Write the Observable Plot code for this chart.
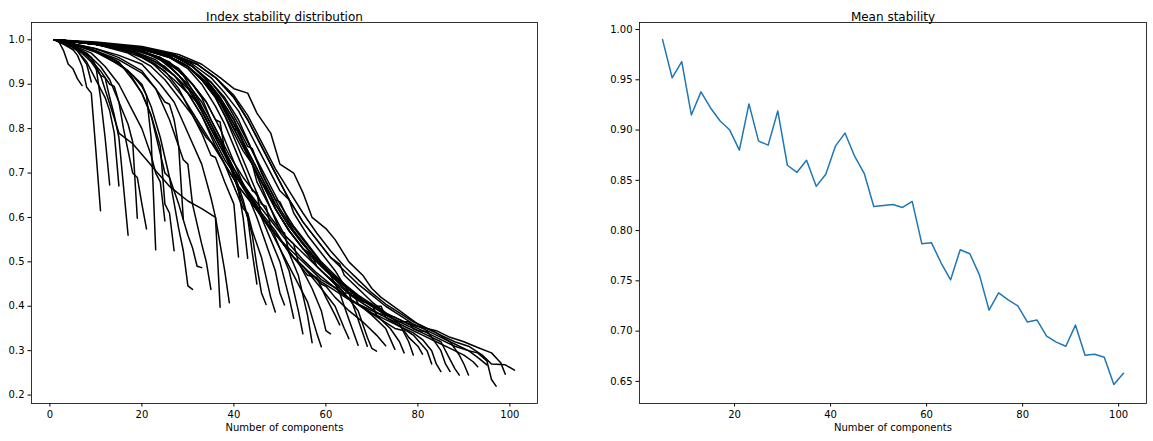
<!DOCTYPE html>
<html><head><meta charset="utf-8">
<script src="https://cdn.jsdelivr.net/npm/d3@7"></script>
<script src="https://cdn.jsdelivr.net/npm/@observablehq/plot@0.6"></script>
<style>
body{margin:0;background:#fff;font-family:"DejaVu Sans",sans-serif;}
#wrap{display:flex;width:1153px;height:441px;}
svg{font-family:"DejaVu Sans",sans-serif;}
</style></head><body><div id="wrap"></div>
<script>
// ---- data ----
const componentCounts = [5,7,9,11,13,15,17,19,21,23,25,27,29,31,33,35,37,39,41,43,45,47,49,51,53,55,57,59,61,63,65,67,69,71,73,75,77,79,81,83,85,87,89,91,93,95,97,99,101];
const meanStability = [0.990,0.952,0.968,0.915,0.938,0.922,0.909,0.900,0.880,0.926,0.889,0.885,0.919,0.865,0.858,0.870,0.844,0.856,0.884,0.897,0.874,0.857,0.824,0.825,0.826,0.823,0.829,0.787,0.788,0.768,0.751,0.781,0.777,0.756,0.721,0.738,0.731,0.725,0.709,0.711,0.695,0.689,0.685,0.706,0.676,0.677,0.674,0.647,0.658];

const leftXTicks = [0,20,40,60,80,100];
const leftYTicks = [0.2,0.3,0.4,0.5,0.6,0.7,0.8,0.9,1.0];
const rightXTicks = [20,40,60,80,100];
const rightYTicks = [0.65,0.70,0.75,0.80,0.85,0.90,0.95,1.00];

// Per-model stability curves (component index, stability), read as breakpoints
const shortCurves = [
  [[1,1],[2,.996],[3,.992],[4,.986],[5,.978]],
  [[1,1],[2,.995],[3,.975],[4,.945],[5,.935],[6,.912],[7,.897]],
  [[1,1],[3,.993],[5,.985],[6,.975],[7,.96],[8,.945],[9,.905]],
  [[1,1],[3,.99],[5,.978],[6,.965],[7,.94],[8,.893],[9,.88],[10,.75],[11,.615]],
  [[1,1],[4,.99],[7,.975],[9,.96],[10,.94],[11,.87],[12,.78],[13,.673]],
  [[1,1],[4,.99],[6,.975],[8,.95],[10,.91],[12,.87],[13,.84],[14,.79],[15,.671]],
  [[1,1],[4,.99],[7,.97],[9,.95],[11,.92],[12,.915],[13,.87],[14,.83],[15,.78],[17,.56]],
  [[1,1],[5,.985],[8,.965],[11,.93],[13,.9],[14,.895],[15,.86],[17,.81],[18,.77],[19,.598]],
  [[1,1],[5,.985],[8,.97],[11,.94],[13,.91],[15,.86],[16,.8],[17,.75],[18,.7],[19,.69],[20,.63],[21,.574]],
  [[1,1],[5,.99],[10,.972],[15,.945],[18,.92],[20,.895],[21,.875],[22,.78],[23,.527]],
  [[1,1],[5,.988],[9,.97],[12,.94],[15,.9],[18,.84],[20,.8],[22,.74],[23,.7],[24,.68],[25,.592]],
  [[1,1],[5,.99],[10,.975],[15,.95],[18,.91],[20,.88],[22,.83],[24,.76],[25,.63],[26,.61],[27,.525]],
  [[1,1],[5,.99],[10,.975],[15,.955],[20,.925],[23,.89],[25,.86],[26,.855],[27,.82],[28,.76],[29,.596]],
  [[1,1],[5,.99],[10,.975],[14,.95],[17,.93],[20,.88],[22,.83],[25,.7],[26,.69],[28,.575],[29,.525],[30,.446],[31,.438]],
  [[1,1],[5,.99],[10,.975],[14,.955],[17,.93],[20,.9],[22,.85],[24,.78],[26,.69],[28,.63],[30,.56],[31,.532],[32,.49],[33,.487]],
  [[1,1],[5,.992],[10,.98],[15,.96],[20,.93],[23,.89],[26,.82],[29,.73],[30,.72],[31,.63],[33,.54],[34,.5],[35,.438]],
  [[1,1],[5,.99],[9,.96],[11,.92],[13,.856],[15,.79],[18,.766],[21,.73],[23,.705],[26,.67],[30,.637],[33,.62],[36,.6],[37,.398]],
  [[1,1],[5,.99],[10,.98],[15,.965],[20,.945],[24,.9],[27,.86],[30,.79],[33,.72],[35,.645],[36,.6],[38,.48],[39,.408]]
];
const midCurves = [
  [[1,1],[8,.993],[15,.98],[20,.96],[25,.93],[28,.89],[30,.85],[33,.79],[35,.74],[36,.735],[38,.68],[40,.63],[41,.511]],
  [[1,1],[10,.99],[18,.975],[22,.955],[25,.94],[28,.91],[30,.88],[33,.83],[35,.79],[38,.73],[40,.7],[41,.66],[42,.6],[43,.508]],
  [[1,1],[10,.992],[18,.98],[24,.96],[28,.935],[31,.9],[34,.86],[36,.82],[37,.815],[38,.75],[40,.7],[42,.64],[43,.6],[44,.52],[45,.45]],
  [[1,1],[10,.99],[18,.978],[24,.958],[28,.93],[31,.9],[33,.87],[35,.82],[37,.78],[39,.72],[41,.66],[43,.6],[44,.56],[45,.49],[46,.43],[47,.404]],
  [[1,1],[10,.99],[18,.975],[23,.955],[27,.92],[30,.88],[33,.83],[36,.76],[38,.72],[40,.67],[42,.62],[43,.61],[44,.57],[46,.51],[48,.42],[49,.387]],
  [[1,1],[10,.99],[18,.978],[24,.96],[28,.935],[31,.9],[34,.86],[37,.8],[39,.75],[41,.7],[43,.65],[45,.6],[47,.54],[49,.48],[50,.43],[51,.403]],
  [[1,1],[10,.992],[20,.98],[26,.96],[30,.935],[33,.9],[36,.85],[38,.81],[40,.76],[42,.71],[44,.66],[45,.655],[46,.6],[48,.55],[50,.5],[52,.42],[53,.373]],
  [[1,1],[10,.992],[20,.98],[26,.962],[30,.94],[33,.91],[36,.87],[38,.83],[40,.78],[42,.73],[44,.68],[46,.63],[47,.625],[48,.58],[50,.53],[52,.48],[54,.39],[55,.338]],
  [[1,1],[10,.993],[20,.982],[27,.965],[31,.94],[34,.91],[37,.87],[40,.82],[42,.77],[44,.72],[46,.67],[48,.62],[50,.57],[51,.565],[52,.52],[54,.47],[56,.38],[57,.318]]
];
const longCurves = [
  [[1,1],[10,.99],[18,.975],[23,.95],[27,.92],[30,.89],[33,.84],[35,.8],[37,.77],[40,.7],[42,.67],[45,.62],[48,.57],[51,.51],[54,.45],[56,.41],[58,.34],[59,.309]],
  [[1,1],[10,.99],[20,.978],[26,.96],[30,.94],[33,.91],[36,.87],[39,.81],[42,.75],[44,.72],[45,.68],[48,.62],[51,.56],[53,.54],[54,.5],[57,.44],[59,.39],[60,.345],[61,.338]],
  [[1,1],[10,.99],[17,.97],[22,.94],[25,.91],[28,.87],[31,.83],[34,.78],[36,.76],[38,.72],[41,.67],[44,.63],[47,.59],[50,.55],[53,.51],[56,.47],[58,.465],[60,.42],[62,.38],[63,.358]],
  [[1,1],[10,.99],[18,.972],[23,.945],[27,.91],[30,.88],[32,.86],[35,.8],[38,.74],[40,.7],[43,.66],[46,.61],[49,.57],[52,.52],[55,.49],[59,.44],[62,.4],[64,.35],[65,.327]],
  [[1,1],[10,.993],[20,.98],[27,.963],[31,.94],[34,.91],[37,.87],[40,.82],[43,.76],[44,.755],[46,.7],[49,.64],[50,.635],[52,.59],[55,.55],[58,.51],[61,.47],[63,.43],[65,.37],[67,.312]],
  [[1,1],[10,.993],[20,.982],[27,.966],[31,.945],[35,.915],[38,.88],[41,.84],[44,.78],[47,.72],[50,.66],[52,.64],[53,.61],[56,.56],[59,.52],[62,.48],[65,.43],[67,.37],[69,.31]],
  [[1,1],[10,.992],[20,.98],[26,.962],[30,.94],[34,.9],[37,.86],[40,.8],[43,.74],[46,.68],[48,.65],[49,.62],[52,.57],[55,.53],[58,.49],[61,.46],[64,.43],[67,.39],[69,.33],[70,.305],[71,.299]],
  [[1,1],[10,.99],[20,.975],[25,.95],[28,.92],[31,.88],[34,.82],[37,.76],[39,.73],[40,.7],[43,.65],[46,.6],[50,.55],[53,.51],[56,.48],[59,.45],[60,.445],[62,.42],[65,.39],[68,.365],[71,.335],[73,.311]],
  [[1,1],[10,.992],[20,.98],[26,.962],[30,.94],[34,.9],[37,.86],[40,.8],[41,.795],[43,.74],[46,.68],[49,.62],[52,.57],[55,.53],[57,.515],[58,.49],[61,.46],[64,.43],[66,.43],[67,.405],[70,.38],[73,.35],[75,.303]],
  [[1,1],[10,.992],[20,.98],[27,.963],[31,.94],[35,.905],[38,.87],[41,.82],[44,.75],[47,.68],[50,.62],[53,.57],[56,.53],[59,.49],[62,.46],[65,.43],[68,.41],[70,.405],[71,.38],[74,.35],[76,.32],[77,.295]],
  [[1,1],[10,.993],[20,.982],[27,.966],[32,.945],[36,.915],[40,.87],[43,.82],[46,.76],[49,.7],[52,.64],[55,.59],[58,.55],[61,.51],[63,.495],[64,.47],[67,.44],[70,.41],[73,.385],[76,.36],[78,.32],[79,.29]],
  [[1,1],[10,.99],[18,.972],[22,.95],[26,.91],[29,.87],[32,.82],[35,.77],[38,.72],[41,.67],[44,.63],[47,.59],[50,.55],[53,.52],[56,.49],[59,.46],[63,.435],[66,.41],[69,.39],[72,.37],[75,.35],[77,.345],[78,.33],[80,.31],[81,.292]],
  [[1,1],[10,.992],[20,.98],[26,.962],[30,.94],[34,.905],[37,.865],[40,.81],[43,.75],[46,.69],[49,.63],[52,.58],[55,.54],[58,.505],[61,.475],[64,.445],[67,.42],[70,.4],[72,.4],[73,.375],[76,.355],[79,.335],[82,.3],[83,.27]],
  [[1,1],[10,.99],[20,.975],[25,.95],[28,.92],[31,.88],[34,.83],[37,.77],[40,.71],[43,.66],[46,.62],[49,.58],[52,.54],[55,.505],[58,.475],[61,.45],[64,.425],[67,.405],[70,.385],[73,.37],[76,.355],[79,.34],[81,.325],[83,.3],[84,.27],[85,.253]],
  [[1,1],[10,.992],[20,.98],[27,.963],[31,.94],[35,.905],[38,.865],[41,.81],[44,.75],[47,.69],[50,.63],[53,.58],[56,.54],[59,.5],[62,.47],[65,.44],[68,.415],[71,.395],[74,.375],[77,.36],[80,.345],[82,.343],[83,.33],[85,.3],[86,.27],[87,.253]],
  [[1,1],[10,.992],[20,.98],[26,.962],[30,.94],[34,.9],[37,.86],[40,.8],[43,.74],[46,.68],[49,.62],[52,.57],[55,.53],[58,.5],[61,.47],[64,.445],[67,.42],[70,.4],[73,.38],[76,.365],[78,.365],[79,.35],[82,.335],[85,.32],[87,.28],[88,.26],[89,.245]],
  [[1,1],[10,.995],[20,.985],[28,.967],[33,.945],[37,.915],[40,.89],[43,.88],[45,.835],[48,.79],[50,.72],[53,.7],[55,.656],[57,.6],[60,.575],[62,.55],[65,.5],[68,.47],[70,.44],[72,.42],[76,.39],[80,.36],[84,.34],[87,.32],[89,.29],[90,.27],[91,.245]],
  [[1,1],[10,.99],[20,.976],[24,.955],[27,.93],[30,.9],[33,.86],[36,.8],[39,.74],[42,.69],[45,.65],[48,.6],[51,.56],[54,.53],[57,.5],[60,.47],[63,.445],[66,.42],[69,.4],[72,.38],[75,.365],[78,.35],[81,.335],[84,.32],[87,.305],[90,.29],[92,.275],[93,.264]],
  [[1,1],[10,.993],[20,.982],[27,.966],[32,.945],[36,.915],[40,.87],[43,.82],[46,.76],[49,.7],[52,.64],[55,.59],[58,.55],[61,.51],[64,.48],[67,.45],[70,.425],[73,.4],[76,.38],[79,.36],[82,.345],[85,.33],[88,.315],[91,.3],[93,.285],[95,.268]],
  [[1,1],[10,.992],[20,.98],[26,.962],[30,.94],[34,.905],[37,.865],[40,.81],[43,.75],[46,.69],[49,.63],[52,.58],[55,.54],[58,.505],[61,.475],[64,.45],[67,.425],[70,.405],[73,.385],[76,.37],[79,.355],[82,.34],[85,.325],[88,.31],[91,.3],[93,.295],[95,.277],[96,.235],[97,.22]],
  [[1,1],[10,.99],[20,.976],[26,.95],[29,.92],[32,.87],[35,.81],[38,.75],[41,.69],[44,.64],[47,.59],[50,.55],[53,.51],[56,.48],[59,.455],[62,.435],[65,.415],[68,.4],[71,.385],[75,.375],[78,.36],[81,.352],[84,.345],[87,.33],[90,.32],[93,.307],[96,.295],[98,.273],[99,.247]],
  [[1,1],[10,.993],[20,.982],[27,.966],[32,.945],[36,.915],[40,.875],[43,.83],[46,.77],[49,.71],[52,.66],[55,.61],[58,.565],[61,.525],[64,.49],[67,.46],[70,.43],[73,.405],[76,.385],[79,.365],[82,.35],[85,.335],[88,.32],[91,.31],[94,.29],[96,.27],[99,.268],[101,.256]]
];

// ---- build tables ----
const curveRows = [];
[...shortCurves, ...midCurves, ...longCurves].forEach(c => {
  const k = c[c.length - 1][0];
  c.forEach(([x, y]) => curveRows.push({k, x, y}));
});
const meanRows = componentCounts.map((k, i) => ({k, mean: meanStability[i]}));

const baseStyle = {fontFamily: "DejaVu Sans, sans-serif", fontSize: "10px", color: "black", background: "white", overflow: "visible"};

const left = Plot.plot({
  width: 576, height: 441,
  marginLeft: 31, marginRight: 39, marginTop: 22, marginBottom: 38,
  style: baseStyle,
  x: {domain: [-4, 106]},
  y: {domain: [0.181, 1.039]},
  marks: [
    Plot.line(curveRows, {x: "x", y: "y", z: "k", stroke: "black", strokeWidth: 1.5}),
    Plot.frame({stroke: "black", strokeWidth: 0.8}),
    Plot.axisX({ticks: leftXTicks, tickSize: 3.5, tickPadding: 3.5, label: null, fontSize: 10}),
    Plot.axisY({ticks: leftYTicks, tickFormat: d3.format(".1f"), tickSize: 3.5, tickPadding: 3.5, label: null, fontSize: 10}),
    Plot.text(["Index stability distribution"], {frameAnchor: "top", dy: -10, fontSize: 12}),
    Plot.text(["Number of components"], {frameAnchor: "bottom", dy: 27, fontSize: 10})
  ]
});

const right = Plot.plot({
  width: 577, height: 441,
  marginLeft: 63, marginRight: 7, marginTop: 22, marginBottom: 38,
  style: baseStyle,
  x: {domain: [0.2, 105.8]},
  y: {domain: [0.628, 1.007]},
  marks: [
    Plot.line(meanRows, {x: "k", y: "mean", stroke: "#1f77b4", strokeWidth: 1.5}),
    Plot.frame({stroke: "black", strokeWidth: 0.8}),
    Plot.axisX({ticks: rightXTicks, tickSize: 3.5, tickPadding: 3.5, label: null, fontSize: 10}),
    Plot.axisY({ticks: rightYTicks, tickFormat: d3.format(".2f"), tickSize: 3.5, tickPadding: 3.5, label: null, fontSize: 10}),
    Plot.text(["Mean stability"], {frameAnchor: "top", dy: -10, fontSize: 12}),
    Plot.text(["Number of components"], {frameAnchor: "bottom", dy: 27, fontSize: 10})
  ]
});

document.getElementById("wrap").append(left, right);
</script></body></html>
